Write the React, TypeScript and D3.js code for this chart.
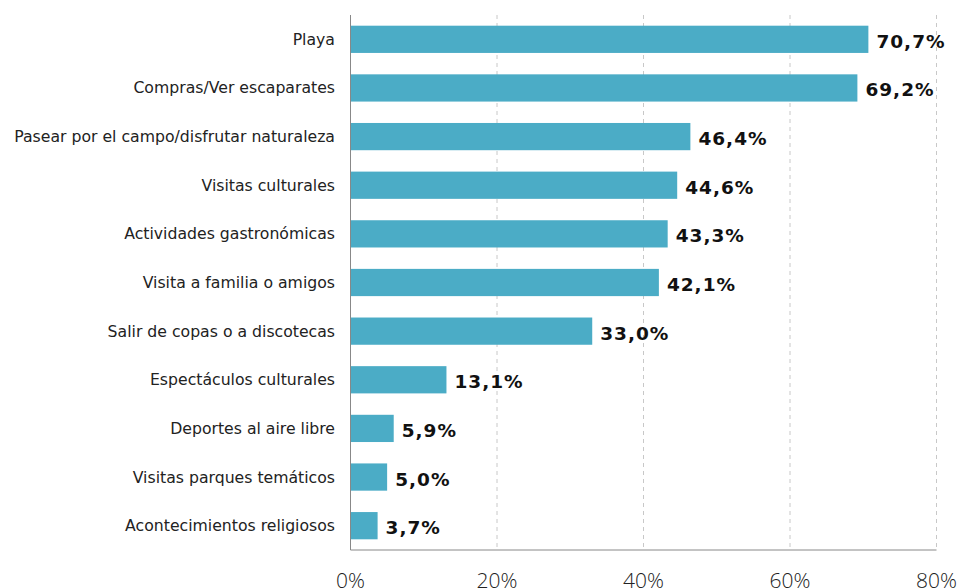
import React from "react";
import * as d3 from "d3";

const categories = [
  "Playa",
  "Compras/Ver escaparates",
  "Pasear por el campo/disfrutar naturaleza",
  "Visitas culturales ",
  "Actividades gastronómicas",
  "Visita a familia o amigos",
  "Salir de copas o a discotecas",
  "Espectáculos culturales",
  "Deportes al aire libre",
  "Visitas parques temáticos",
  "Acontecimientos religiosos",
];
const values = [70.7, 69.2, 46.4, 44.6, 43.3, 42.1, 33.0, 13.1, 5.9, 5.0, 3.7];
const xTicks = [0, 20, 40, 60, 80];

const W = 961;
const H = 588;
const margin = { left: 350.5, right: 24.5, top: 15, bottom: 38 };

export default function App() {
  const x = d3.scaleLinear().domain([0, 80]).range([margin.left, W - margin.right]);
  const y = d3
    .scaleBand<string>()
    .domain(categories)
    .range([margin.top, H - margin.bottom])
    .paddingInner(0.44)
    .paddingOuter(0.22);
  const fmt = (v: number) => v.toFixed(1).replace(".", ",") + "%";
  const bottom = H - margin.bottom;
  return (
    <svg width={W} height={H} style={{ position: "absolute", left: 0, top: 0 }}>
      <rect width={W} height={H} fill="#fff" />
      {xTicks.slice(1).map((t) => (
        <line
          key={t}
          x1={x(t)}
          x2={x(t)}
          y1={margin.top}
          y2={bottom}
          stroke="#c8c8c8"
          strokeDasharray="4,4"
        />
      ))}
      {categories.map((c, i) => (
        <g key={c}>
          <rect
            x={x(0)}
            y={y(c)}
            width={x(values[i]) - x(0)}
            height={y.bandwidth()}
            fill="#4BACC6"
          />
          <text
            x={335}
            y={(y(c) as number) + y.bandwidth() / 2}
            dy="0.35em"
            textAnchor="end"
            fontFamily="DejaVu Sans"
            fontSize={15.7}
            fill="#222"
          >
            {c}
          </text>
          <text
            x={x(values[i]) + 8}
            y={(y(c) as number) + y.bandwidth() / 2 + 2}
            dy="0.35em"
            fontFamily="DejaVu Sans"
            fontWeight="bold"
            fontSize={18.5}
            letterSpacing={1}
            fill="#111"
          >
            {fmt(values[i])}
          </text>
        </g>
      ))}
      <line x1={x(0)} x2={x(0)} y1={margin.top} y2={bottom} stroke="#888" />
      <line x1={x(0)} x2={x(80)} y1={bottom} y2={bottom} stroke="#888" />
      {xTicks.map((t) => (
        <text
          key={t}
          x={x(t)}
          y={588}
          textAnchor="middle"
          fontFamily="Open Sans"
          fontWeight={300}
          fontSize={21}
          fill="#222"
        >
          {t + "%"}
        </text>
      ))}
    </svg>
  );
}
